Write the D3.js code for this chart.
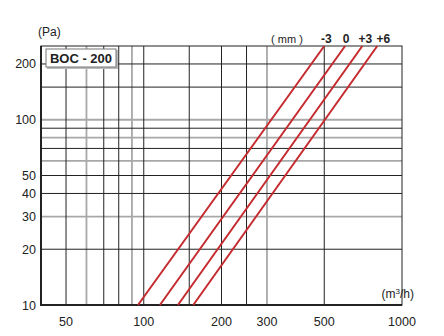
<!DOCTYPE html>
<html>
<head>
<meta charset="utf-8">
<script src="https://cdn.jsdelivr.net/npm/d3@7"></script>
<style>
  body { margin: 0; background: #fff; }
  text { font-family: "Liberation Sans", Arial, sans-serif; fill: #222; }
</style>
</head>
<body>
<script>
// flow (m3/h) at 10 Pa and at 250 Pa for each setting (mm)
let settings = ["-3", "0", "+3", "+6"];
let pressures = [10, 250];
let flows = [
  [95, 500],
  [115.5, 602],
  [135.6, 702],
  [155.5, 802]
];

let xTicks = [50, 100, 200, 300, 500, 1000];
let yTicks = [10, 20, 30, 40, 50, 100, 200];
// grid lines, dark and light
let xGridDark = [50, 70, 80, 100, 150, 200, 250, 500];
let xGridLight = [60, 90, 300];
let yGridDark = [20, 40, 50, 70, 90, 150, 200];
let yGridLight = [30, 60, 80, 100];

var W = 444, H = 336;
var svg = d3.select("body")
  .append("svg")
  .attr("width", W)
  .attr("height", H);

var x = d3.scaleLog().domain([40, 1000]).range([41, 402]);
var y = d3.scaleLog().domain([10, 250]).range([305, 46]);

var grid = svg.append("g");

grid.selectAll("line.xl")
  .data(xGridLight)
  .enter()
  .append("line")
  .attr("x1", d => x(d)).attr("x2", d => x(d))
  .attr("y1", y(250)).attr("y2", y(10))
  .attr("stroke", "#a8a8a8")
  .attr("stroke-width", 1.8);

grid.selectAll("line.yl")
  .data(yGridLight)
  .enter()
  .append("line")
  .attr("y1", d => y(d)).attr("y2", d => y(d))
  .attr("x1", x(40)).attr("x2", x(1000))
  .attr("stroke", "#a8a8a8")
  .attr("stroke-width", 1.8);

grid.selectAll("line.xd")
  .data(xGridDark)
  .enter()
  .append("line")
  .attr("x1", d => x(d)).attr("x2", d => x(d))
  .attr("y1", y(250)).attr("y2", y(10))
  .attr("stroke", "#222")
  .attr("stroke-width", 1);

grid.selectAll("line.yd")
  .data(yGridDark)
  .enter()
  .append("line")
  .attr("y1", d => y(d)).attr("y2", d => y(d))
  .attr("x1", x(40)).attr("x2", x(1000))
  .attr("stroke", "#222")
  .attr("stroke-width", 1);

// frame
svg.append("rect")
  .attr("x", x(40)).attr("y", y(250))
  .attr("width", x(1000) - x(40))
  .attr("height", y(10) - y(250))
  .attr("fill", "none")
  .attr("stroke", "#222")
  .attr("stroke-width", 1);
svg.append("path")
  .attr("d", "M" + x(40) + "," + y(250) + "V" + y(10) + "H" + x(1000))
  .attr("fill", "none")
  .attr("stroke", "#222")
  .attr("stroke-width", 2);

// red curves
var line = d3.line()
  .x(d => x(d[0]))
  .y(d => y(d[1]));

svg.selectAll("path.curve")
  .data(flows)
  .enter()
  .append("path")
  .attr("class", "curve")
  .attr("d", d => line(d.map((f, i) => [f, pressures[i]])))
  .attr("fill", "none")
  .attr("stroke", "#c42a2e")
  .attr("stroke-width", 2);

// setting labels, nudged right of each line's top end
var labelShift = [2, 1, 3, 6];
svg.selectAll("text.set")
  .data(settings)
  .enter()
  .append("text")
  .attr("x", (d, i) => x(flows[i][1]) + labelShift[i])
  .attr("y", 43)
  .attr("text-anchor", "middle")
  .attr("font-size", 12)
  .attr("font-weight", "bold")
  .text(d => d);

svg.append("text")
  .attr("x", 287).attr("y", 43)
  .attr("text-anchor", "middle")
  .attr("font-size", 11)
  .text("( mm )");

// axis tick labels
svg.selectAll("text.yt")
  .data(yTicks)
  .enter()
  .append("text")
  .attr("x", 36)
  .attr("y", d => y(d) + 4.5)
  .attr("text-anchor", "end")
  .attr("font-size", 12.5)
  .text(d => d);

svg.selectAll("text.xt")
  .data(xTicks)
  .enter()
  .append("text")
  .attr("x", d => x(d))
  .attr("y", 326)
  .attr("text-anchor", "middle")
  .attr("font-size", 12.5)
  .text(d => d);

svg.append("text")
  .attr("x", 38).attr("y", 36)
  .attr("font-size", 12)
  .text("(Pa)");

var unit = svg.append("text")
  .attr("x", 414).attr("y", 298)
  .attr("text-anchor", "end")
  .attr("font-size", 12);
unit.append("tspan").text("(m");
unit.append("tspan").attr("font-size", 8).attr("dy", -4).text("3");
unit.append("tspan").attr("dy", 4).text("/h)");

// title box
svg.append("rect")
  .attr("x", 47).attr("y", 50)
  .attr("width", 71).attr("height", 19)
  .attr("fill", "#bbb");
svg.append("rect")
  .attr("x", 46).attr("y", 49)
  .attr("width", 70).attr("height", 18)
  .attr("fill", "#fff")
  .attr("stroke", "#777")
  .attr("stroke-width", 1);
svg.append("text")
  .attr("x", 81).attr("y", 63)
  .attr("text-anchor", "middle")
  .attr("font-size", 13)
  .attr("font-weight", "bold")
  .text("BOC - 200");
</script>
</body>
</html>
